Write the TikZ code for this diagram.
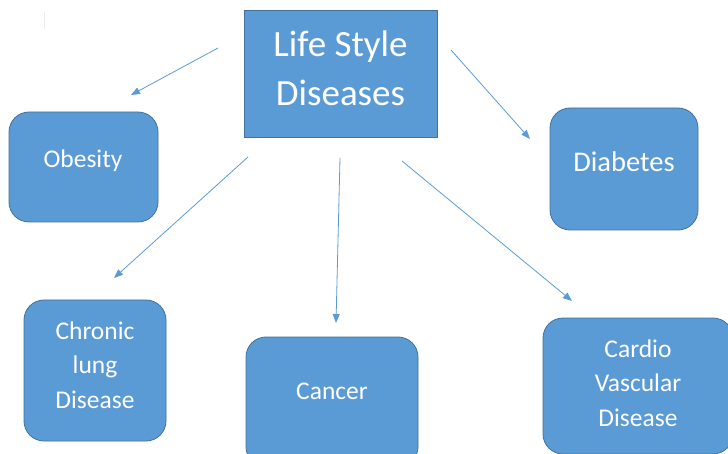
\documentclass[tikz,border=0pt]{standalone}
\usepackage{fontspec}
\setmainfont{Carlito}
\usetikzlibrary{arrows.meta}
\definecolor{boxfill}{HTML}{5B9BD5}
\definecolor{boxline}{HTML}{41719C}
\definecolor{arrowc}{HTML}{5B9BD5}
\tikzset{
  rbox/.style={draw=boxline, line width=0.8pt, fill=boxfill, rectangle, rounded corners=20pt, inner sep=0pt},
  sbox/.style={draw=boxline, line width=0.8pt, fill=boxfill, rectangle, inner sep=0pt},
  lbl/.style={text=white, align=center, inner sep=0pt, font=\fontsize{25.5}{34.5}\selectfont},
  conn/.style={draw=arrowc, line width=0.8pt, -{Triangle[length=9pt,width=7pt]}}
}
\begin{document}
\begin{tikzpicture}[x=1pt,y=-1pt]
\useasboundingbox (0,0) rectangle (728,454);
\clip (0,0) rectangle (728,454);
% faint mark
\draw[black!8, line width=0.8pt] (44,12) -- (44,29);
% boxes
\node[sbox, minimum width=193pt, minimum height=127pt] (main) at (340.5,73.5) {};
\node[rbox, minimum width=149pt, minimum height=110pt] (obesity) at (83.5,167) {};
\node[rbox, minimum width=148pt, minimum height=122pt] (diabetes) at (624,169) {};
\node[rbox, minimum width=142pt, minimum height=141pt] (chronic) at (95,370.5) {};
\node[rbox, minimum width=172pt, minimum height=130pt] (cancer) at (332,402) {};
\node[rbox, minimum width=190pt, minimum height=136pt] (cardio) at (638,386) {};
% texts
\node[lbl, font=\fontsize{37}{49}\selectfont] (tmain) at (340.5,68) {Life Style\\Diseases};
\node[lbl] (tobesity) at (83,160.5) {Obesity};
\node[lbl, font=\fontsize{28.5}{34}\selectfont] (tdiabetes) at (624,162) {Diabetes};
\node[lbl] (tchronic) at (95,365) {Chronic\\lung\\Disease};
\node[lbl] (tcancer) at (332,391) {Cancer};
\node[lbl] (tcardio) at (638,383) {Cardio\\Vascular\\Disease};
% arrow end points
\coordinate (a1s) at (218,48);  \coordinate (a1e) at (131,95);
\coordinate (a2s) at (451,50);  \coordinate (a2e) at (530,139);
\coordinate (a3s) at (248,157); \coordinate (a3e) at (114,278);
\coordinate (a4s) at (340,158); \coordinate (a4e) at (336,323);
\coordinate (a5s) at (402,161); \coordinate (a5e) at (572,301);
\draw[conn] (a1s) -- (a1e);
\draw[conn] (a2s) -- (a2e);
\draw[conn] (a3s) -- (a3e);
\draw[conn] (a4s) -- (a4e);
\draw[conn] (a5s) -- (a5e);
\end{tikzpicture}
\end{document}
